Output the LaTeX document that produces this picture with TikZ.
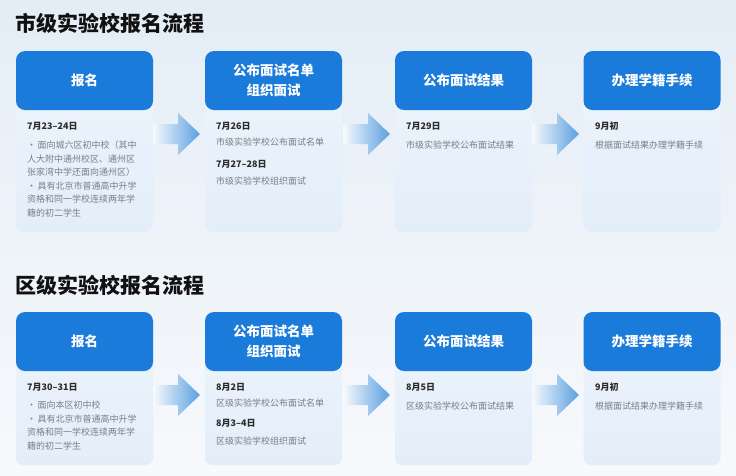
\documentclass[tikz,border=0pt]{standalone}
\usepackage{fontspec}
\setmainfont{Noto Sans CJK SC}
\definecolor{hdr}{HTML}{1B7BDA}
\definecolor{pnltop}{HTML}{EEF5FC}
\definecolor{pnlbot}{HTML}{E3EEFA}
\definecolor{arrowblue}{HTML}{5A9FE0}
\definecolor{bgtop}{HTML}{E4EDF6}
\definecolor{bgbot}{HTML}{F7F9FC}
\definecolor{datec}{HTML}{2B2B2B}
\definecolor{bodyc}{HTML}{767F8A}
\definecolor{titlec}{HTML}{111111}
\newcommand{\bkarrow}[3]{%
  \shade[left color=bgtop!30!white, right color=arrowblue]
    (#1,#3-10) -- (#2-22,#3-10) -- (#2-22,#3-21) -- (#2,#3) -- (#2-22,#3+21)
    -- (#2-22,#3+10) -- (#1,#3+10) -- cycle;}
\begin{document}
\begin{tikzpicture}[x=1pt,y=-1pt,
  hdrbox/.style={fill=hdr, rounded corners=9pt, text=white,
    font=\fontsize{13.5}{20}\selectfont\bfseries, align=center,
    minimum width=137pt, minimum height=59pt, inner sep=0pt},
  panel/.style={top color=pnltop, bottom color=pnlbot, rounded corners=7pt,
    minimum width=137pt, inner sep=0pt},
  datetxt/.style={anchor=north west, inner sep=0pt, text=datec,
    font=\fontsize{9}{13.5}\selectfont\bfseries},
  bodytxt/.style={anchor=north west, inner sep=0pt, text=bodyc, align=left,
    font=\fontsize{9}{13.5}\selectfont},
  titletxt/.style={anchor=west, inner sep=0pt, text=titlec,
    font=\fontsize{21}{24}\selectfont\bfseries}
]
\useasboundingbox (0,0) rectangle (736,475);
\shade[top color=bgtop, bottom color=bgbot] (0,0) rectangle (736,475);

% ---------- top section ----------
\node[titletxt] (t1) at (15,23) {市级实验校报名流程};

\node[panel, minimum height=181pt] (p1) at (84.5,141.5) {};
\node[panel, minimum height=181pt] (p2) at (273.5,141.5) {};
\node[panel, minimum height=181pt] (p3) at (463.5,141.5) {};
\node[panel, minimum height=181pt] (p4) at (652,141.5) {};

\node[hdrbox] (h1) at (84.5,80.5) {报名};
\node[hdrbox] (h2) at (273.5,80.5) {公布面试名单\\组织面试};
\node[hdrbox] (h3) at (463.5,80.5) {公布面试结果};
\node[hdrbox] (h4) at (652,80.5) {办理学籍手续};

\node[datetxt] (d1) at (27,122) {7月23–24日};
\node[bodytxt] (b1) at (27,141) {·\,面向城六区初中校（其中\\人大附中通州校区、通州区\\张家湾中学还面向通州区）\\·\,具有北京市普通高中升学\\资格和同一学校连续两年学\\籍的初二学生};

\node[datetxt] (d2a) at (216,122) {7月26日};
\node[bodytxt] (b2a) at (216,138) {市级实验学校公布面试名单};
\node[datetxt] (d2b) at (216,160) {7月27–28日};
\node[bodytxt] (b2b) at (216,177) {市级实验学校组织面试};

\node[datetxt] (d3) at (406,122) {7月29日};
\node[bodytxt] (b3) at (406,141) {市级实验学校公布面试结果};

\node[datetxt] (d4) at (595,122) {9月初};
\node[bodytxt] (b4) at (595,141) {根据面试结果办理学籍手续};

\bkarrow{153}{200}{134}
\bkarrow{343}{390}{134}
\bkarrow{532}{579}{134}

% ---------- bottom section ----------
\node[titletxt] (t2) at (15,285) {区级实验校报名流程};

\node[panel, minimum height=153pt] (q1) at (84.5,388.5) {};
\node[panel, minimum height=153pt] (q2) at (273.5,388.5) {};
\node[panel, minimum height=153pt] (q3) at (463.5,388.5) {};
\node[panel, minimum height=153pt] (q4) at (652,388.5) {};

\node[hdrbox] (k1) at (84.5,341.5) {报名};
\node[hdrbox] (k2) at (273.5,341.5) {公布面试名单\\组织面试};
\node[hdrbox] (k3) at (463.5,341.5) {公布面试结果};
\node[hdrbox] (k4) at (652,341.5) {办理学籍手续};

\node[datetxt] (e1) at (27,383) {7月30–31日};
\node[bodytxt] (c1) at (27,401) {·\,面向本区初中校\\·\,具有北京市普通高中升学\\资格和同一学校连续两年学\\籍的初二学生};

\node[datetxt] (e2a) at (216,383) {8月2日};
\node[bodytxt] (c2a) at (216,399) {区级实验学校公布面试名单};
\node[datetxt] (e2b) at (216,419) {8月3–4日};
\node[bodytxt] (c2b) at (216,437) {区级实验学校组织面试};

\node[datetxt] (e3) at (406,383) {8月5日};
\node[bodytxt] (c3) at (406,402) {区级实验学校公布面试结果};

\node[datetxt] (e4) at (595,383) {9月初};
\node[bodytxt] (c4) at (595,402) {根据面试结果办理学籍手续};

\bkarrow{153}{200}{395}
\bkarrow{343}{390}{395}
\bkarrow{532}{579}{395}
\end{tikzpicture}
\end{document}
